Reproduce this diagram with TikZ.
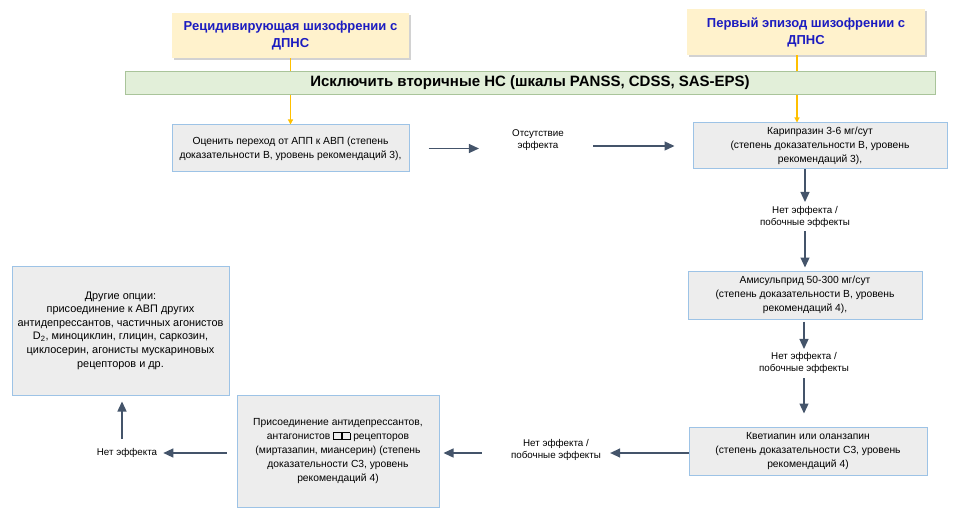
\documentclass[tikz,border=0pt]{standalone}
\usepackage{fontspec}
\setmainfont{Liberation Sans}
\usepackage{tikz}
\usetikzlibrary{arrows.meta, positioning, shadows}
\definecolor{headfill}{HTML}{FFF2CC}
\definecolor{headtext}{HTML}{1C1CC0}
\definecolor{barfill}{HTML}{E2EFD9}
\definecolor{bardraw}{HTML}{A9C49A}
\definecolor{stepfill}{HTML}{EDEDED}
\definecolor{stepdraw}{HTML}{9DC3E6}
\definecolor{arrowcol}{HTML}{44546A}
\definecolor{startcol}{HTML}{FFC000}
\tikzset{
  headbox/.style = {rectangle, fill=headfill, text=headtext, font=\fontsize{13}{17}\selectfont\bfseries,
    align=center, inner sep=0pt, drop shadow={shadow xshift=1.5pt, shadow yshift=-2pt, fill=black!35}},
  barbox/.style = {rectangle, fill=barfill, draw=bardraw, line width=0.8pt, inner sep=0pt,
    font=\fontsize{15}{16}\selectfont\bfseries},
  stepbox/.style = {rectangle, fill=stepfill, draw=stepdraw, line width=1pt, align=center, inner sep=0pt,
    font=\fontsize{10.3}{14}\selectfont},
  note/.style = {align=center, inner sep=1pt, font=\fontsize{9.8}{12.5}\selectfont},
  arrow/.style = {-{Triangle[length=10pt, width=9pt]}, arrowcol, line width=1.3pt},
  start-arrow/.style = {-{Triangle[length=5pt, width=5pt]}, startcol, line width=1.2pt}
}
\newcommand*\tofu{{\setlength\fboxsep{0pt}\setlength\fboxrule{0.8pt}\fbox{\rule{0pt}{6.5pt}\hspace{7pt}}\fbox{\rule{0pt}{6.5pt}\hspace{7pt}}}}
\begin{document}
\begin{tikzpicture}[x=1pt, y=-1pt]
  \useasboundingbox (0,0) rectangle (962,516);

  % Starting points
  \node (relapse) [headbox, minimum width=237pt, minimum height=45pt] at (290.5,35.5)
    {Рецидивирующая шизофрении с\\ДПНС};
  \node (first) [headbox, minimum width=238pt, minimum height=46pt] at (806,32)
    {Первый эпизод шизофрении с\\ДПНС};

  % Steps
  \node (assess) [stepbox, minimum width=237pt, minimum height=47pt] at (290.5,148.5)
    {Оценить переход от АПП к АВП (степень\\доказательности В, уровень рекомендаций 3),};
  \node (absent) [note] at (538,140) {Отсутствие\\эффекта};
  \node (cari) [stepbox, minimum width=254pt, minimum height=46pt] at (820,146)
    {Карипразин 3-6 мг/сут\\(степень доказательности В, уровень\\рекомендаций 3),};
  \node (noeffA) [note] at (805,217) {Нет эффекта /\\побочные эффекты};
  \node (amis) [stepbox, minimum width=234pt, minimum height=48pt] at (805,295)
    {Амисульприд 50-300 мг/сут\\(степень доказательности В, уровень\\рекомендаций 4),};
  \node (noeffB) [note] at (804,363) {Нет эффекта /\\побочные эффекты};
  \node (quet) [stepbox, minimum width=238pt, minimum height=48pt] at (808,451)
    {Кветиапин или оланзапин\\(степень доказательности С3, уровень\\рекомендаций 4)};
  \node (noeffC) [note] at (556,450) {Нет эффекта /\\побочные эффекты};
  \node (addon) [stepbox, minimum width=202pt, minimum height=112pt] at (338,451)
    {Присоединение антидепрессантов,\\антагонистов \tofu\ рецепторов\\(миртазапин, миансерин) (степень\\доказательности С3, уровень\\рекомендаций 4)};
  \node (noeffD) [note] at (127,453) {Нет эффекта};
  \node (other) [stepbox, minimum width=217pt, minimum height=129pt, font=\fontsize{10.9}{13.6}\selectfont]
    at (120.5,330.5)
    {Другие опции:\\присоединение к АВП других\\антидепрессантов, частичных агонистов\\D\textsubscript{2}, миноциклин, глицин, саркозин,\\циклосерин, агонисты мускариновых\\рецепторов и др.};

  % Arrows from the starting points (under the bar)
  \draw[start-arrow] (relapse.south) -- (relapse.south |- assess.north);
  \draw[start-arrow] (first.south -| 797,0) -- (797,0 |- cari.north);

  \node (exclude) [barbox, minimum width=810pt, minimum height=23pt] at (530,83)
    {Исключить вторичные НС (шкалы PANSS, CDSS, SAS-EPS)};

  % Arrows between steps
  \draw[arrow, shorten <=19pt, shorten >=32pt] (assess) -- (assess -| absent.west);
  \draw[arrow, shorten <=28pt, shorten >=18pt] (absent.east |- cari) -- (cari.west);
  \draw[arrow, shorten >=3pt] (cari.south -| noeffA) -- (noeffA);
  \draw[arrow, shorten <=2pt, shorten >=3pt] (noeffA.south) -- (noeffA.south |- amis.north);
  \draw[arrow, shorten <=2pt, shorten >=2pt] (amis.south -| noeffB) -- (noeffB);
  \draw[arrow, shorten <=3pt, shorten >=13pt] (noeffB.south) -- (noeffB.south |- quet.north);
  \draw[arrow, shorten >=8pt] (quet.west |- 0,453) -- (noeffC.east |- 0,453);
  \draw[arrow, shorten <=28pt, shorten >=4pt] (noeffC.west |- 0,453) -- (addon.east |- 0,453);
  \draw[arrow, shorten <=10pt, shorten >=5pt] (addon.west |- noeffD) -- (noeffD.east);
  \draw[arrow, shorten <=8pt, shorten >=6pt] (noeffD.north -| 122,0) -- (122,0 |- other.south);

\end{tikzpicture}
\end{document}
